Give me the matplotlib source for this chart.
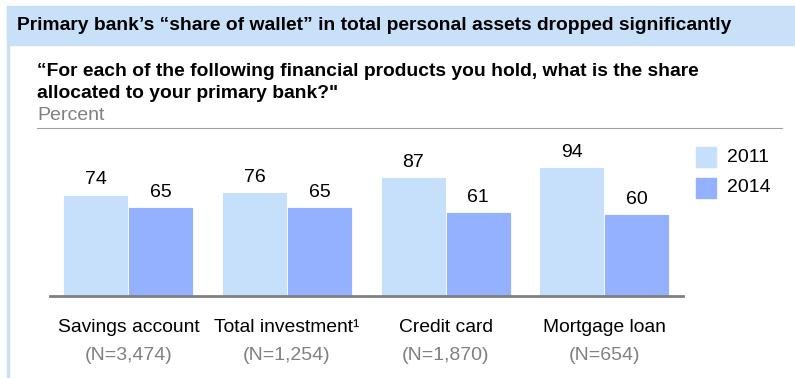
import matplotlib.pyplot as plt
import numpy as np
from matplotlib.patches import Rectangle

plt.rcParams['font.family'] = ['Liberation Sans', 'DejaVu Sans']

# Share of wallet held by the primary bank, percent
categories = ['Savings account', 'Total investment\u00b9', 'Credit card', 'Mortgage loan']
sample_sizes = ['(N=3,474)', '(N=1,254)', '(N=1,870)', '(N=654)']
share_2011 = [74, 76, 87, 94]
share_2014 = [65, 65, 61, 60]
years = ['2011', '2014']

color_2011 = '#C6DFFA'
color_2014 = '#93B1FE'
band_color = '#C8E0F8'

W, H = 795, 378
fig = plt.figure(figsize=(W / 100, H / 100), dpi=100)

def fx(px):
    return px / W

def fy(py):
    return 1 - py / H

# header band and left rule
fig.patches.append(Rectangle((fx(7), fy(45)), fx(W - 7), fy(6) - fy(45),
                             transform=fig.transFigure, color=band_color, zorder=0))
fig.patches.append(Rectangle((fx(7), 0), fx(1.5), fy(6),
                             transform=fig.transFigure, color=band_color, zorder=0))

fig.text(fx(17), fy(26), 'Primary bank\u2019s \u201cshare of wallet\u201d in total personal assets dropped significantly',
         fontsize=13.85, fontweight='bold', va='center', ha='left')
fig.text(fx(37), fy(71), '\u201cFor each of the following financial products you hold, what is the share',
         fontsize=13.85, fontweight='bold', va='center', ha='left')
fig.text(fx(37), fy(93), 'allocated to your primary bank?"',
         fontsize=13.85, fontweight='bold', va='center', ha='left')
fig.text(fx(37), fy(115), 'Percent', fontsize=14, color='#808080', va='center', ha='left')
fig.lines.append(plt.Line2D([fx(37), fx(782)], [fy(128), fy(128)],
                            transform=fig.transFigure, color='#a0a0a0', lw=0.8))

# bar chart axes: baseline at y=296, 100 units ~ 137 px
ax = fig.add_axes([fx(50), fy(296), fx(683) - fx(50), fy(159) - fy(296)])
x = np.arange(len(categories))
w = 0.41
b1 = ax.bar(x - w / 2, share_2011, w, color=color_2011, edgecolor='white', linewidth=0.6, label=years[0])
b2 = ax.bar(x + w / 2, share_2014, w, color=color_2014, edgecolor='white', linewidth=0.6, label=years[1])
ax.set_xlim(-0.495, 3.498)
ax.set_ylim(0, 100)

for bars, vals in [(b1, share_2011), (b2, share_2014)]:
    for bar, v in zip(bars, vals):
        ax.text(bar.get_x() + bar.get_width() / 2, v + 4.5, str(v),
                ha='center', va='bottom', fontsize=14)

for side in ['top', 'right', 'left']:
    ax.spines[side].set_visible(False)
ax.spines['bottom'].set_color('#808080')
ax.spines['bottom'].set_linewidth(2)
ax.set_yticks([])
ax.set_xticks([])

for xi, cat, n in zip(x, categories, sample_sizes):
    ax.annotate(cat, (xi, 0), xytext=(0, -31), textcoords='offset pixels',
                ha='center', va='center', fontsize=13.9)
    ax.annotate(n, (xi, 0), xytext=(0, -60), textcoords='offset pixels',
                ha='center', va='center', fontsize=14, color='#808080')

# legend drawn as squares and labels
for i, (yr, c) in enumerate(zip(years, [color_2011, color_2014])):
    top = 147 + i * 31
    fig.patches.append(Rectangle((fx(696), fy(top + 20)), fx(20), fy(top) - fy(top + 20),
                                 transform=fig.transFigure, color=c))
    fig.text(fx(727), fy(top + 10), yr, fontsize=14, va='center', ha='left')

fig.savefig('out.png', dpi=100, facecolor='white')
